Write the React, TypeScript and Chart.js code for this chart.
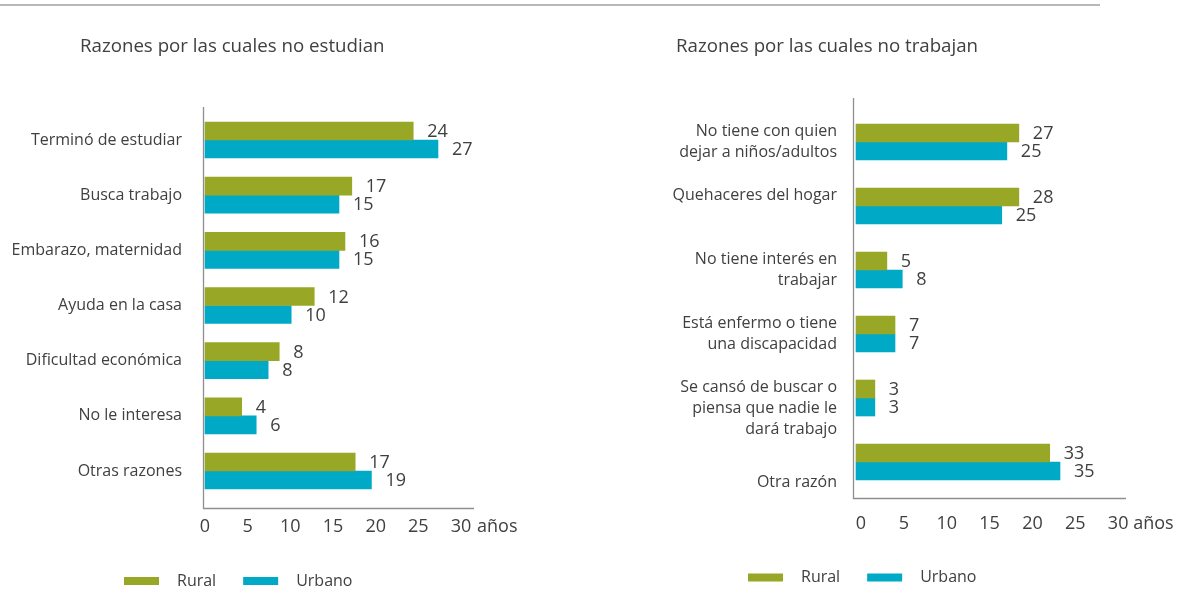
import React, { useEffect, useRef } from "react";
import { Chart, registerables } from "chart.js";

Chart.register(...registerables);

// ---------- data ----------
const seriesNames = ["Rural", "Urbano"];
const unitLabel = "años";
const xTickValues = [0, 5, 10, 15, 20, 25, 30];

const titleLeft = "Razones por las cuales no estudian";
const catsLeft = [
  "Terminó de estudiar",
  "Busca trabajo",
  "Embarazo, maternidad",
  "Ayuda en la casa",
  "Dificultad económica",
  "No le interesa",
  "Otras razones",
];
// bar lengths read against the drawn axis
const ruralLeft = [24.4, 17.2, 16.4, 12.8, 8.7, 4.3, 17.6];
const urbanLeft = [27.3, 15.7, 15.7, 10.1, 7.4, 6.0, 19.5];
// printed value labels
const ruralLeftLabels = [24, 17, 16, 12, 8, 4, 17];
const urbanLeftLabels = [27, 15, 15, 10, 8, 6, 19];

const titleRight = "Razones por las cuales no trabajan";
const catsRight = [
  ["No tiene con quien", "dejar a niños/adultos"],
  ["Quehaceres del hogar"],
  ["No tiene interés en", "trabajar"],
  ["Está enfermo o tiene", "una discapacidad"],
  ["Se cansó de buscar o", "piensa que nadie le", "dará trabajo"],
  ["Otra razón"],
];
const ruralRight = [19.0, 19.0, 3.6, 4.55, 2.2, 22.6];
const urbanRight = [17.6, 17.0, 5.4, 4.55, 2.2, 23.8];
const ruralRightLabels = [27, 28, 5, 7, 3, 33];
const urbanRightLabels = [25, 25, 8, 7, 3, 35];

// ---------- styles ----------
const FONT = "'Open Sans', 'Noto Sans', sans-serif";
const TEXT = "#404040";
const GREEN = "#98A826";
const BLUE = "#00A9C6";
const AXIS = "#8e8e8e";

Chart.defaults.font.family = FONT;
Chart.defaults.color = TEXT;

const decorPlugin = {
  id: "decor",
  afterDraw(chart: any, _args: any, o: any) {
    const { ctx, chartArea: ca } = chart;
    ctx.save();
    // axis lines
    ctx.strokeStyle = AXIS;
    ctx.lineWidth = 1.3;
    const ax = Math.round(ca.left) + 0.5;
    const top = ca.top - o.axisTopExtra;
    const bot = Math.round(ca.bottom + o.axisBottomExtra) + 0.5;
    ctx.beginPath();
    ctx.moveTo(ax, top);
    ctx.lineTo(ax, bot);
    ctx.lineTo(ca.right, bot);
    ctx.stroke();

    ctx.fillStyle = TEXT;
    ctx.textBaseline = "middle";
    ctx.textAlign = "left";
    // title
    ctx.font = `18.7px ${FONT}`;
    ctx.fillText(o.title, o.titleX, o.titleY);
    // unit after last tick
    const xs = chart.scales.x;
    ctx.font = `18px ${FONT}`;
    ctx.fillText(
      unitLabel,
      xs.getPixelForValue(xTickValues[xTickValues.length - 1]) + o.unitGap,
      o.unitY
    );
    // value labels
    chart.data.datasets.forEach((ds: any, di: number) => {
      const meta = chart.getDatasetMeta(di);
      meta.data.forEach((bar: any, i: number) => {
        ctx.fillText(String(ds.valueLabels[i]), bar.x + 14, bar.y + 1);
      });
    });
    // legend
    ctx.font = `16px ${FONT}`;
    let x = o.legendX;
    chart.data.datasets.forEach((ds: any) => {
      ctx.fillStyle = ds.backgroundColor;
      ctx.fillRect(x, o.legendY - 4, 35, 8);
      x += 35 + 18;
      ctx.fillStyle = TEXT;
      ctx.fillText(ds.label, x, o.legendY);
      x += ctx.measureText(ds.label).width + 27;
    });
    ctx.restore();
  },
};

function buildConfig(p: any) {
  return {
    type: "bar",
    data: {
      labels: p.cats,
      datasets: [
        {
          label: seriesNames[0],
          data: p.rural,
          valueLabels: p.ruralLabels,
          backgroundColor: GREEN,
          barThickness: 18,
        },
        {
          label: seriesNames[1],
          data: p.urban,
          valueLabels: p.urbanLabels,
          backgroundColor: BLUE,
          barThickness: 18,
        },
      ],
    },
    options: {
      indexAxis: "y",
      responsive: false,
      animation: false,
      devicePixelRatio: 1,
      layout: { padding: p.padding },
      plugins: {
        legend: { display: false },
        title: { display: false },
        tooltip: { enabled: false },
        decor: p.decor,
      },
      scales: {
        x: {
          type: "linear",
          min: p.xMin,
          max: p.xMax,
          grid: { display: false, drawTicks: false },
          border: { display: false },
          afterBuildTicks: (s: any) => {
            s.ticks = xTickValues.map((v) => ({ value: v }));
          },
          afterFit: (s: any) => {
            s.height = 40;
          },
          ticks: {
            padding: p.xTickPad,
            labelOffset: p.xLabelOffset,
            font: { size: 18 },
            color: TEXT,
            maxRotation: 0,
            callback: (v: any) => String(v),
          },
        },
        y: {
          type: "category",
          grid: { display: false, drawTicks: false },
          border: { display: false },
          afterFit: (s: any) => {
            s.width = p.yWidth;
          },
          ticks: {
            padding: p.yTickPad,
            font: { size: 16, lineHeight: 1.3 },
            color: TEXT,
            autoSkip: false,
            callback: p.yCallback,
          },
        },
      },
    },
    plugins: [decorPlugin],
  };
}

// blank lines added around some right-hand labels, as in the source layout
const rightLabelShift: Record<number, [number, number]> = {
  1: [0, 1],
  4: [1, 0],
  5: [2, 0],
};

const leftConfig = () =>
  buildConfig({
    cats: catsLeft,
    rural: ruralLeft,
    urban: urbanLeft,
    ruralLabels: ruralLeftLabels,
    urbanLabels: urbanLeftLabels,
    padding: { top: 112.4, bottom: 51.4, left: 0, right: 116 },
    xMin: -0.234,
    xMax: 31.52,
    xTickPad: 17.6,
    xLabelOffset: 0,
    yWidth: 203,
    yTickPad: 21,
    yCallback: function (this: any, v: any, i: number) {
      return catsLeft[i];
    },
    decor: {
      axisTopExtra: 5.4,
      axisBottomExtra: 9.4,
      title: titleLeft,
      titleX: 80,
      titleY: 47,
      unitGap: 16,
      unitY: 527,
      legendX: 124,
      legendY: 581,
    },
  });

const rightConfig = () =>
  buildConfig({
    cats: catsRight,
    rural: ruralRight,
    urban: urbanRight,
    ruralLabels: ruralRightLabels,
    urbanLabels: urbanRightLabels,
    padding: { top: 110, bottom: 56, left: 0, right: 53 },
    xMin: -0.35,
    xMax: 31.5,
    xTickPad: 19.2,
    xLabelOffset: 5,
    yWidth: 263,
    yTickPad: 16,
    yCallback: function (this: any, v: any, i: number) {
      const [b, a] = rightLabelShift[i] || [0, 0];
      return [
        ...Array(b).fill(""),
        ...catsRight[i],
        ...Array(a).fill(""),
      ];
    },
    decor: {
      axisTopExtra: 12,
      axisBottomExtra: 4,
      title: titleRight,
      titleX: 86,
      titleY: 47,
      unitGap: 20,
      unitY: 524,
      legendX: 158,
      legendY: 577.5,
    },
  });

function Panel({ make, left, width }: { make: () => any; left: number; width: number }) {
  const ref = useRef<HTMLCanvasElement>(null);
  useEffect(() => {
    const chart = new Chart(ref.current as HTMLCanvasElement, make());
    return () => chart.destroy();
  }, []);
  return (
    <canvas
      ref={ref}
      width={width}
      height={590}
      style={{ position: "absolute", left, top: 0, width, height: 590 }}
    />
  );
}

export default function App() {
  return (
    <div
      style={{
        position: "absolute",
        left: 0,
        top: 0,
        width: 1179,
        height: 590,
        background: "#ffffff",
        overflow: "hidden",
      }}
    >
      <div
        style={{
          position: "absolute",
          left: 0,
          top: 4,
          width: 1100,
          height: 2,
          background: "#b8b8b8",
        }}
      />
      <Panel make={leftConfig} left={0} width={590} />
      <Panel make={rightConfig} left={590} width={589} />
    </div>
  );
}
